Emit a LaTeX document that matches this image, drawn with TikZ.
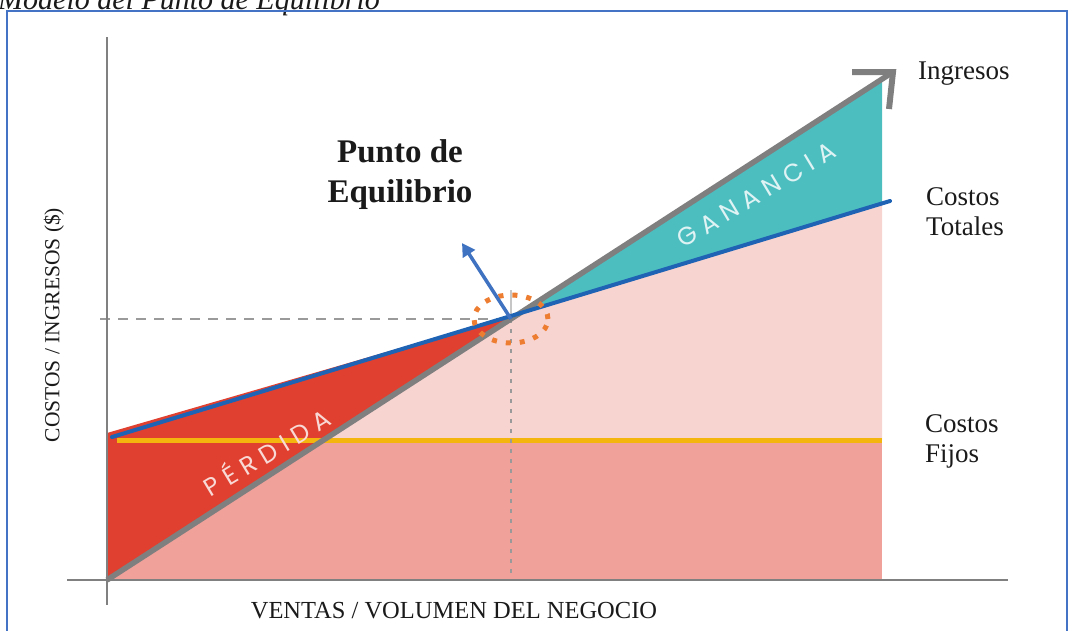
\documentclass[tikz,border=0pt]{standalone}
\usepackage{fontspec}
\setmainfont{Liberation Serif}
\newfontfamily\gothic{Poppins}
\usetikzlibrary{arrows.meta}
\definecolor{revgray}{HTML}{7F7F7F}
\definecolor{costblue}{HTML}{1F63B5}
\definecolor{fixorange}{HTML}{F5B50F}
\definecolor{lossred}{HTML}{E0402F}
\definecolor{gainteal}{HTML}{4DBEC0}
\definecolor{lightpink}{HTML}{F8D4D1}
\definecolor{salmon}{HTML}{F0A19A}
\definecolor{axisgray}{HTML}{808080}
\definecolor{frameblue}{HTML}{4472C4}
\definecolor{dotorange}{HTML}{ED7D31}
\definecolor{arrowblue}{HTML}{3F72C0}
\definecolor{dashgray}{HTML}{9A9A9A}
\definecolor{inktext}{HTML}{1A1A1A}
\newcommand\lsp{\kern7pt}
\tikzset{
  axisline/.style={axisgray, line width=2pt},
  guide/.style={dashgray, line width=2pt},
  sidelabel/.style={font=\fontsize{27}{30}\selectfont, text=inktext, align=left, inner sep=0pt, anchor=base west},
  zonelabel/.style={font=\gothic\fontsize{25}{28}\selectfont, inner sep=0pt, rotate=31},
}
\begin{document}
\begin{tikzpicture}[x=1pt,y=-1pt]
\useasboundingbox (0,0) rectangle (1071,630);
% title (cropped at the top)
\node[font=\itshape\fontsize{30}{34}\selectfont, text=inktext, inner sep=0pt, anchor=base west] (title) at (-2,9) {Modelo del Punto de Equilibrio};
% frame
\draw[frameblue, line width=2pt] (7,645) -- (7,11) -- (1067,11) -- (1067,645);

% key points
\coordinate (O) at (107,580);
\coordinate (revtip) at (893,72);
\coordinate (costL) at (112,437);
\coordinate (costR) at (890,201);
\coordinate (BE) at (intersection of O--revtip and costL--costR);
\coordinate (revR) at (intersection of O--revtip and 882,0--882,600);
\coordinate (costRR) at (intersection of costL--costR and 882,0--882,600);
\coordinate (eq) at (511,319);

% fills
\fill[salmon] (107,440) rectangle (882,580);
\fill[lightpink] (107,440) -- (107,437) -- (costRR) -- (882,440) -- cycle;
\fill[gainteal] (BE) -- (revR) -- (costRR) -- cycle;
\fill[lossred] (107,433) -- (BE) -- (O) -- cycle;

% fixed costs
\draw[fixorange, line width=5pt] (117,440) -- (882,440);

% guides
\draw[guide, dash pattern=on 10pt off 8pt] (100,319) -- (eq);
\draw[guide, dash pattern=on 4pt off 6pt] (eq) -- (511,580);
\draw[gray!45, line width=2pt] (511,290) -- (eq);

% axes
\draw[axisline] (107,37) -- (107,605);
\draw[axisline] (67,580) -- (1008,580);

% revenue line with open head
\draw[revgray, line width=5.5pt, line join=miter] (O) -- (revtip);
\draw[revgray, line width=6pt, line join=miter] (852,72) -- (revtip) -- (889,109);

% total costs
\draw[costblue, line width=4pt, line cap=round] (costL) -- (costR);

% break-even marker
\draw[dotorange, line width=5pt, dash pattern=on 5pt off 9pt] (eq) ellipse [x radius=37pt, y radius=24pt];
\coordinate (pointer) at (462,243);
\draw[arrowblue, line width=3.5pt, -{Triangle[length=13pt,width=14pt]}] (eq) -- (pointer);

% zone labels
\node[zonelabel, text=lossred!20!white] (perdida) at (266,451) {P\lsp É\lsp R\lsp D\lsp I\lsp D\lsp A};
\node[zonelabel, text=gainteal!18!white] (ganancia) at (756,195) {G\lsp A\lsp N\lsp A\lsp N\lsp C\lsp I\lsp A};

% text labels (base anchor = last line)
\node[font=\bfseries\fontsize{33}{40}\selectfont, text=inktext, align=center, inner sep=0pt, anchor=base] (pe) at (400,202) {Punto de\\Equilibrio};
\node[sidelabel] (ing) at (918,79) {Ingresos};
\node[sidelabel] (ct) at (926,235) {Costos\\Totales};
\node[sidelabel] (cf) at (925,462) {Costos\\Fijos};
\node[font=\fontsize{24.5}{27}\selectfont, text=inktext, inner sep=0pt, anchor=base] (xl) at (454,618) {VENTAS / VOLUMEN DEL NEGOCIO};
\node[font=\fontsize{21.5}{24}\selectfont, text=inktext, inner sep=0pt, rotate=90] (yl) at (54,325) {COSTOS / INGRESOS (\$)};
\end{tikzpicture}
\end{document}
